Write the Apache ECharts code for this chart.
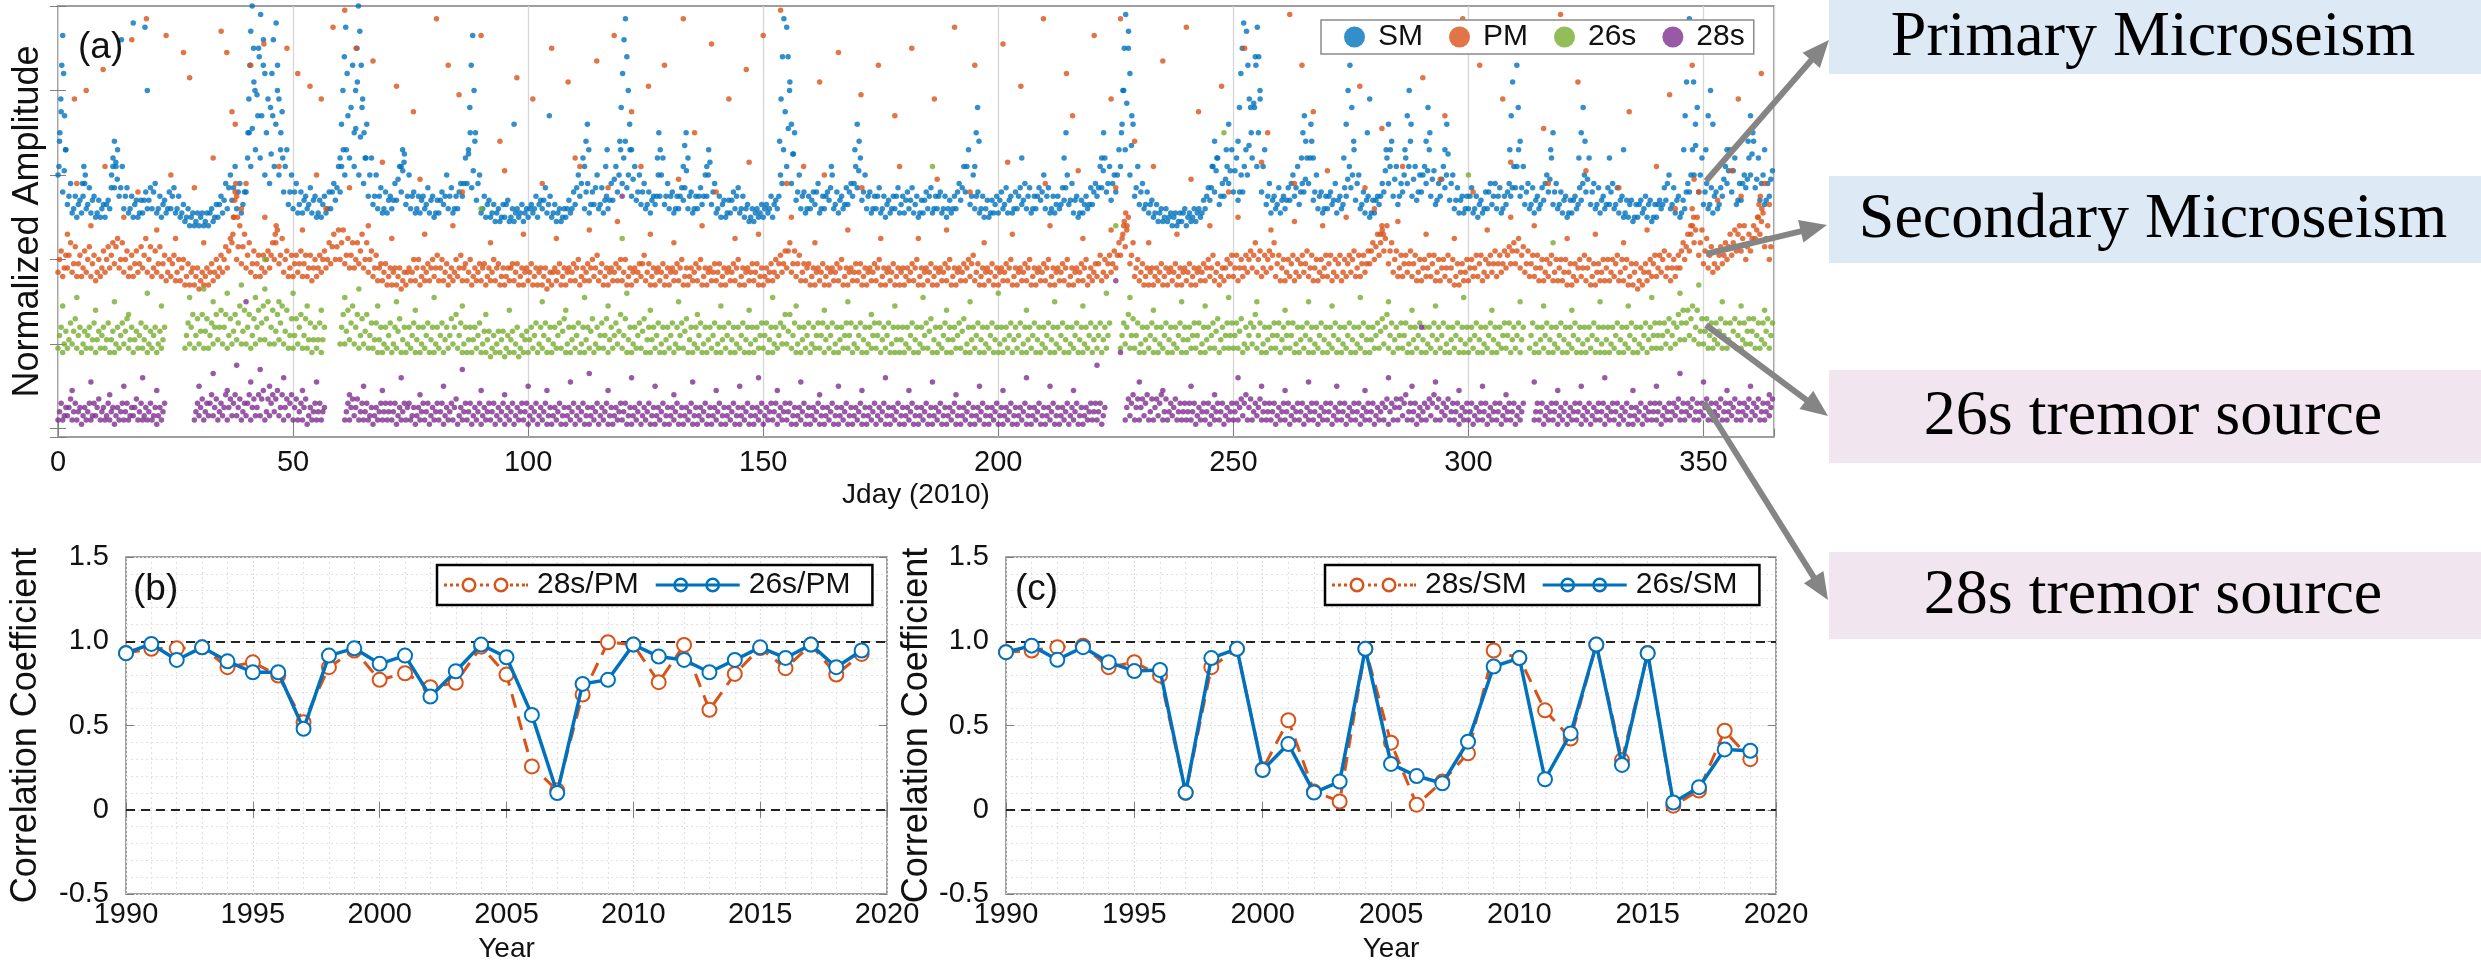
<!DOCTYPE html>
<html><head><meta charset="utf-8">
<script src="https://cdn.jsdelivr.net/npm/echarts@6/dist/echarts.min.js"></script>
<style>html,body{margin:0;padding:0;background:#fff}#c{width:2481px;height:964px}</style>
</head><body><div id="c"></div>
<script>
// ---------- Panel (a): readings per day (units: 0..100 = bottom..top tick) ----------
const jdayTicks = [0, 50, 100, 150, 200, 250, 300, 350];
const smLo = [
60,56,53,51,50,51,52,51,50,50, 50,52,57,55,52,51,50,50,51,52, 52,51,50,51,52,51,50,49,48,48,
48,48,48,49,50,51,52,54,52,51, 56,62,66,64,60,58,62,60,56,53, 52,51,51,52,51,50,50,51,52,54,
56,60,64,62,60,58,55,53,52,51, 51,52,54,56,53,52,51,51,52,51, 50,51,53,52,51,52,55,58,57,54,
51,50,50,49,49,50,49,49,50,49, 50,51,50,52,51,50,49,49,50,51, 53,55,52,51,53,52,51,52,54,56,
58,57,55,54,53,52,51,53,55,53, 52,51,52,54,52,51,52,53,55,53, 51,50,50,51,52,51,50,49,49,50,
50,51,50,52,58,62,58,54,52,51, 52,53,51,52,54,52,51,52,53,55, 57,54,52,51,52,51,50,51,52,51,
51,52,51,50,51,52,51,52,51,50, 51,52,54,56,53,52,51,50,50,51, 51,52,51,51,52,53,52,51,52,54,
52,51,51,52,54,53,51,50,51,52, 53,55,57,56,54,56,62,66,60,55, 53,52,51,50,49,49,49,48,48,49,
48,49,49,50,52,54,56,53,55,58, 56,54,56,60,64,62,56,53,51,52, 51,52,54,55,53,56,58,54,52,51,
52,53,51,52,55,57,54,52,51,50, 51,53,56,58,55,53,56,58,55,54, 56,58,55,53,55,57,54,52,51,51,
52,51,50,51,52,53,52,51,53,55, 57,55,53,52,51,52,54,56,53,52, 51,50,51,52,54,56,53,52,51,52,
53,52,51,50,50,49,50,51,50,49, 50,52,54,52,51,50,52,56,60,56, 53,52,51,52,55,58,56,53,54,57,
60,57,54,53,55];
const smMid = [
68,61,55,52,53,55,53,54,51,52, 53,57,62,57,55,52,53,51,54,54, 56,52,53,52,55,52,51,50,50,49,
50,49,51,50,53,54,57,57,56,53, 64,71,79,74,70,65,72,66,62,56, 56,53,54,53,54,51,53,52,56,57,
62,66,76,71,69,64,60,55,55,52, 54,54,59,61,55,55,52,54,53,54, 51,54,55,55,52,56,58,65,61,58,
52,53,51,51,50,53,50,51,51,51, 52,52,53,54,53,51,51,50,52,52, 57,58,56,53,57,53,54,54,59,60,
64,60,59,56,56,53,54,55,60,55, 55,52,55,57,55,52,55,55,60,56, 52,53,51,54,55,52,52,50,51,51,
52,52,53,55,66,71,65,56,55,52, 54,56,52,55,57,53,54,53,56,58, 61,56,55,52,55,52,53,52,55,53,
54,54,53,51,54,55,52,55,52,52, 52,56,57,62,55,55,52,52,51,53, 54,53,54,52,55,54,55,52,55,56,
55,52,53,53,57,54,54,51,53,53, 56,57,61,58,58,60,72,77,67,57, 56,53,53,51,51,50,50,50,49,51,
50,50,51,51,55,57,61,55,59,61, 61,56,62,67,77,70,62,55,54,53, 54,54,58,57,56,59,64,56,55,52,
55,54,54,53,59,60,58,53,54,51, 54,55,61,62,59,55,60,62,59,56, 60,61,59,54,59,60,58,54,54,52,
55,52,53,52,56,55,55,52,56,57, 62,57,56,53,54,53,58,59,56,53, 54,51,54,53,58,59,56,53,54,53,
56,53,54,51,53,50,53,52,53,50, 53,53,58,53,54,51,56,60,67,60, 56,53,55,53,59,61,61,54,58,59,
65,59,58,54,59];
const smHi = [
75,66,58,55,54,58,57,55,54,53, 54,62,66,62,57,55,54,54,56,57, 58,55,54,56,57,55,53,52,51,51,
51,51,52,53,55,58,60,62,58,56, 70,82,90,86,78,74,80,75,66,60, 58,56,55,57,55,54,55,56,58,62,
66,74,86,82,76,72,64,60,57,56, 55,58,62,65,60,56,55,55,57,55, 54,56,60,57,55,58,64,70,68,60,
55,54,53,52,53,54,52,52,53,52, 53,55,54,57,55,53,52,52,54,56, 60,64,58,56,60,57,55,58,62,66,
68,66,62,60,58,56,55,60,64,58, 56,55,57,61,56,55,57,60,63,58, 55,54,54,56,57,55,53,52,52,53,
53,55,54,60,75,82,70,60,56,55, 56,58,55,56,60,56,55,57,58,62, 64,60,56,55,57,55,54,55,57,55,
56,57,55,54,56,57,55,56,55,54, 55,58,62,66,60,56,55,54,54,55, 56,57,55,56,57,58,57,55,57,60,
57,55,55,57,60,58,55,54,55,57, 58,62,64,62,60,66,80,90,72,62, 58,56,54,53,52,52,51,51,51,52,
51,52,52,54,57,62,64,58,62,66, 64,60,66,76,88,80,66,58,55,57, 55,57,60,62,58,64,68,60,56,55,
56,58,55,57,62,66,60,56,55,54, 55,58,64,68,62,58,64,68,62,60, 62,66,61,58,62,65,60,57,55,55,
57,55,54,56,58,58,57,55,58,62, 66,62,58,57,55,57,60,64,58,56, 55,54,55,57,60,64,58,57,55,57,
58,57,55,54,54,53,54,55,54,53, 54,57,60,57,55,54,58,66,76,64, 58,57,56,57,62,66,64,58,60,64,
68,64,60,58,61];
const smPeaks = [
[0.2,62],[0.4,70],[0.6,78],[0.8,86],[1.0,93],[1.2,84],[1.4,74],[1.6,66],[5.2,58],[5.5,62],[5.8,60],
[11.4,60],[11.7,64],[12.0,68],[12.3,63],[12.6,59],[13.5,92],[16.0,96],[18.5,95],[19.0,80],
[40.4,70],[40.6,78],[40.8,86],[41.0,94],[41.3,100],[41.6,90],[41.9,80],[42.5,74],[42.8,88],[43.1,98],[43.4,102],[43.7,92],[44.0,84],
[45.2,76],[45.5,84],[45.8,92],[46.1,101],[46.4,96],[46.7,86],[47.0,78],[47.4,70],[47.8,64],
[60.0,64],[60.3,72],[60.6,80],[60.9,88],[61.2,95],[61.5,84],[63.0,70],[63.3,80],[63.6,90],[63.9,100],[64.2,94],[64.5,86],[64.8,78],[65.1,70],[65.5,64],
[73.0,62],[73.3,66],[73.6,63],[87.3,66],[87.6,76],[87.9,86],[88.2,93],[88.5,80],[88.8,70],[97.0,72],[104.5,74],
[112.0,62],[112.3,68],[112.6,72],[112.9,66],[116.5,62],[116.8,66],
[119.5,68],[119.8,76],[120.1,84],[120.4,92],[120.7,97],[121.0,88],[121.3,80],[121.6,72],[122.0,66],
[127.5,64],[127.8,70],[128.1,66],[133.0,62],[133.3,67],[133.6,70],[134.0,64],[138.0,62],[138.4,66],
[153.5,68],[153.8,78],[154.1,88],[154.4,97],[154.7,102],[155.0,95],[155.3,88],[155.6,80],[156.0,72],[156.4,65],
[164.5,62],[169.5,66],[170.0,72],[170.4,68],
[195.0,62],[195.3,70],[195.6,76],[195.9,68],[205.0,64],[214.0,64],[214.4,70],[222.0,64],[222.4,70],
[226.2,70],[226.5,80],[226.8,90],[227.1,98],[227.4,102],[227.7,94],[228.0,84],[228.4,74],
[245.5,62],[246,68],[246.5,64],[248.5,66],[249,72],
[251.0,68],[251.3,76],[251.6,84],[251.9,90],[252.2,96],[252.5,102],[252.8,94],[253.1,86],[253.4,78],[253.8,70],
[254.5,76],[254.8,86],[255.1,95],[255.4,88],[255.7,78],
[264.5,64],[264.8,70],[265.1,74],[265.4,68],[266.5,72],[267,64],
[273.5,64],[274,72],[274.4,80],[274.8,86],[275.2,76],[275.6,68],[278.5,70],[279,78],
[282.5,66],[283,72],[283.4,66],[286.5,66],[287,74],[287.4,80],[287.8,72],[291.0,68],[291.4,76],[291.8,70],[295,66],[295.4,72],
[308.8,66],[309.1,74],[309.4,82],[309.7,90],[310.0,95],[310.3,86],[310.6,76],[311,68],[317.5,66],[318,70],
[323.5,64],[324,70],[324.4,76],[324.8,68],[330,64],[333,66],
[345.8,66],[346.1,74],[346.4,82],[346.7,90],[347,97],[347.3,102],[347.6,92],[347.9,82],[348.3,72],
[350.5,66],[351,74],[351.5,80],[352,72],[355,66],[359.5,68],[360,74],[360.5,70],[363,66]];

const pmLo = [
37,36,38,37,36,36,37,36,35,36, 37,38,39,38,37,36,36,37,38,37, 36,37,36,35,36,35,35,34,34,34,
33,34,34,35,36,37,38,44,40,39, 38,37,36,36,37,38,40,39,37,36, 36,37,36,36,35,36,37,38,39,40,
40,39,38,38,39,38,37,36,35,35, 34,34,34,33,34,35,35,34,35,35, 36,35,35,34,35,36,35,35,34,35,
35,34,35,35,34,34,35,35,34,34, 35,34,34,34,33,34,35,34,34,35, 35,34,35,35,36,35,34,34,35,35,
35,34,34,35,36,35,34,34,35,34, 34,35,35,34,34,35,35,34,34,35, 35,34,34,35,35,34,34,35,35,34,
34,35,35,36,37,38,37,36,35,35, 34,34,35,34,34,35,35,34,34,35, 35,34,34,35,35,34,34,35,34,34,
34,35,35,34,34,35,34,34,35,35, 34,34,35,35,36,35,34,34,35,34, 34,35,35,34,34,35,35,34,34,35,
35,34,34,35,35,34,34,35,35,34, 35,36,35,36,37,38,41,43,39,36, 35,34,34,34,35,34,34,35,34,34,
35,34,34,35,35,36,35,34,35,36, 36,35,36,37,38,37,36,37,38,36, 35,35,36,35,36,37,36,35,35,36,
36,35,36,35,36,37,36,36,37,39, 40,41,42,39,37,36,36,37,36,35, 35,36,36,35,35,36,35,34,34,35,
35,36,36,35,36,37,36,37,38,39, 39,38,37,36,36,35,35,36,35,35, 35,34,34,35,36,35,34,34,35,35,
35,36,35,35,34,34,33,34,35,36, 36,37,36,35,36,38,40,42,44,41, 39,38,37,38,39,40,41,42,42,40,
42,45,46,43,40];
const pmMid = [
40,38,41,39,39,38,40,39,37,38, 40,41,43,40,40,38,39,39,41,40, 38,39,39,37,39,37,38,36,37,36,
35,36,37,37,38,40,42,50,43,43, 41,39,39,38,40,41,44,41,40,38, 39,39,39,38,38,38,40,40,43,43,
44,41,41,40,42,40,40,38,38,37, 36,37,36,35,37,37,38,36,37,38, 38,38,37,36,37,38,38,37,36,37,
38,36,37,38,36,36,38,37,36,37, 37,36,37,36,35,37,37,36,37,37, 38,36,37,38,38,37,36,37,37,38,
37,36,37,37,39,37,36,37,37,36, 37,37,38,36,36,37,38,36,37,37, 37,36,37,37,38,36,37,37,37,36,
36,37,37,39,39,42,39,39,37,38, 36,37,37,36,37,37,38,36,37,37, 37,36,37,37,38,36,37,37,36,37,
36,37,38,36,37,37,36,37,37,38, 36,37,37,38,39,37,36,37,37,36, 37,37,38,36,37,37,38,36,37,37,
38,36,37,37,38,36,37,37,38,36, 37,39,37,39,39,41,45,47,41,38, 37,36,37,36,37,36,37,37,36,37,
37,36,37,37,38,38,37,36,38,39, 38,38,38,40,41,40,38,40,41,39, 38,37,39,37,39,39,38,38,37,38,
39,37,39,37,39,40,38,39,39,42, 43,44,45,42,40,38,39,39,39,37, 38,38,39,37,38,38,38,36,37,37,
38,38,39,37,39,39,39,39,41,42, 42,41,39,39,38,38,37,39,37,38, 37,37,36,38,38,38,36,37,37,38,
37,39,37,38,36,37,35,37,37,39, 38,40,38,38,38,42,43,46,47,44, 42,41,39,41,41,43,44,46,45,43,
45,47,49,45,43];
const pmHi = [
42,41,44,43,41,42,43,41,40,42, 43,44,45,44,42,41,42,43,45,43, 42,43,41,40,41,40,40,39,38,38,
37,38,39,40,41,43,45,56,48,46, 44,42,41,41,42,44,47,45,42,41, 41,42,41,41,40,41,42,44,46,47,
47,45,44,44,46,44,42,41,39,39, 38,38,38,37,38,40,40,38,39,40, 41,40,39,38,40,41,39,40,38,39,
39,38,40,39,38,38,39,39,38,38, 39,38,38,38,37,38,39,38,38,39, 40,38,39,40,41,39,38,38,39,40,
40,38,38,39,41,39,38,38,39,38, 38,39,40,38,38,39,40,38,38,39, 39,38,38,39,40,38,38,39,39,38,
38,39,40,41,42,44,42,41,39,39, 38,38,39,38,38,39,40,38,38,39, 39,38,38,39,40,38,38,39,38,38,
38,39,40,38,38,39,38,38,39,40, 38,38,39,40,41,39,38,38,39,38, 38,39,40,38,38,39,40,38,38,39,
40,38,38,39,40,38,38,39,40,38, 39,41,40,41,42,44,48,50,44,40, 39,38,38,38,39,38,38,39,38,38,
39,38,38,39,40,41,39,38,40,41, 41,40,41,42,44,42,41,42,44,41, 40,40,41,40,41,42,41,40,40,41,
41,40,41,40,41,42,41,41,42,44, 46,47,48,44,42,41,41,42,41,40, 40,41,41,40,40,41,40,39,39,40,
40,41,41,40,41,42,41,42,43,44, 45,43,42,41,41,40,40,41,40,40, 40,39,39,40,41,40,39,39,40,40,
40,41,40,40,39,39,38,39,40,41, 41,42,41,40,41,44,46,48,50,47, 45,43,42,43,44,46,47,48,48,46,
48,50,51,48,45];
const pmScatter = [
[3.5,78],[6,80],[9.6,85],[15.7,92],[18.8,97],[23,93],[26.7,89],[28,83],[34.7,94],[35.9,89],[37,75],[37.7,72],[41,86],[43.8,91],[48.7,90],[51,84],[53.6,81],[56,78],[58.5,95],[61,99],[63.4,90],[67,87],[72,81],[75.6,75],[80.5,97],[83,86],[85.3,79],[90,93],[94,68],[97.6,83],[101,78],[105,90],[108.5,82],[111,62],[114.6,87],[118.3,93],[122,75],[125.6,81],[129,86],[133,97],[135.4,70],[139,91],[142.7,78],[146.4,85],[150,93],[153.7,99],[158.6,62],[162,82],[166,89],[170.8,79],[174.5,86],[178,74],
[2,46],[7,48],[14,50],[21,47],[25,45],[31,44],[39,52],[44,50],[52,47],[57,52],[66,48],[71,45],[78,46],[84,48],[92,44],[99,46],[106,45],[113,47],[119,49],[126,46],[131,44],[137,48],[144,45],[149,46],[156,50],[161,44],[168,47],[175,45],
[181.6,90],[186.4,78],[190.7,95],[195,86],[201,91],[204.8,81],[209.6,97],[214.5,84],[215.8,74],[220.4,93],[224,78],[226,97],[229,68],[235,87],[240,95],[242.6,75],[247.5,81],[252.4,90],[257.3,70],[262,98],[264.6,86],[267,75],[272,92],[276.9,81],[281.6,71],[285.3,93],[290.3,83],[295,74],[298.8,97],[302.4,86],[307.3,78],[312.3,92],[316,71],[319.6,98],[323.3,82],[329.4,90],[334.2,75],[339,94],[342.8,79],[347.6,86],[352.5,93],[357.4,78],[362.3,84],
[183,45],[189,47],[197,44],[203,46],[211,48],[218,45],[224,47],[232,44],[238,46],[245,48],[251,50],[258,47],[263,49],[269,48],[274,50],[280,52],[285,49],[291,46],[297,45],[304,47],[309,50],[314,48],[321,45],[327,46],[333,44],[338,47],[344,52],[349,56],[353,54],[358,55],[364,53],
[4,58],[10,62],[17,56],[24,60],[29,57],[33,64],[40,58],[47,62],[55,60],[62,57],[69,63],[77,59],[86,56],[95,61],[103,58],[110,64],[117,57],[124,62],[132,59],[140,56],[147,63],[155,58],[163,60],[171,57],[179,62],[187,59],[194,56],[202,63],[210,58],[217,61],[225,57],[233,62],[241,59],[249,56],[256,63],[263,58],[270,61],[278,57],[286,62],[294,59],[301,56],[309,63],[317,58],[325,61],[332,57],[340,62],[348,59],[356,61],[363,58],
[37.2,46],[37.4,50],[37.6,54],[37.8,58],[38.0,55],[38.2,50],[46.2,46],[46.4,48],[226.5,46],[226.8,49],[227.1,51],[227.4,48],[281.3,46],[281.6,48],[281.9,46],[347.3,48],[347.6,52],[347.9,50],[361.5,50],[361.8,53],[362.1,55],[362.4,52]];

const g26Lo = [
19,18,19,20,19,18,19,19,18,19, 19,18,18,19,20,19,18,19,19,18, 19,18,19,null,null,null,null,19,20,19,
20,19,19,20,21,20,19,20,21,20, 20,19,20,21,21,20,20,21,20,19, 19,20,19,19,18,19,18,null,null,null,
20,20,21,20,19,20,19,19,18,18, 19,18,19,18,18,19,18,18,19,18, 18,19,18,19,20,19,18,18,18,19,
18,18,17,18,18,17,18,18,17,18, 18,19,18,19,18,18,19,19,18,18, 19,18,18,19,18,19,19,18,19,20,
19,18,18,19,19,18,18,19,18,18, 19,18,19,19,18,18,19,18,18,19, 18,18,19,18,18,19,18,18,18,19,
19,18,18,19,20,20,19,18,18,19, 18,19,19,18,19,18,18,19,19,18, 19,18,18,19,19,18,19,18,18,18,
18,19,18,18,19,19,18,18,19,18, 18,19,19,18,18,19,18,18,19,18, 18,18,19,18,19,18,18,19,18,18,
19,18,18,19,18,18,19,18,18,19, 18,19,18,19,null,null,19,20,19,19, 18,18,19,18,18,19,18,18,19,18,
18,19,19,18,18,19,19,18,19,19, 19,19,18,19,20,19,18,18,19,19, 18,19,19,18,18,19,18,18,19,18,
18,19,18,18,19,18,18,19,18,18, 19,19,20,19,18,19,19,18,18,19, 18,18,19,18,19,18,18,19,18,18,
18,19,18,18,19,18,18,19,19,18, 19,18,null,19,18,18,19,18,18,19, 18,18,19,18,18,18,19,18,18,18,
18,19,18,18,19,18,18,19,18,19, 19,19,20,19,20,21,21,22,21,20, 20,19,19,20,19,19,20,19,19,20,
20,19,19,20,19];
const g26Mid = [
22,20,21,23,22,20,22,21,21,22, 21,21,20,22,23,21,21,22,21,20, 22,20,21,null,null,null,null,22,24,22,
23,23,22,24,24,24,22,23,25,23, 24,22,24,25,26,24,23,25,23,22, 22,24,22,21,21,21,21,null,null,null,
24,23,25,24,22,23,22,21,21,20, 22,20,23,21,20,22,21,20,22,21, 20,22,21,22,24,22,20,21,21,22,
20,21,19,20,21,19,21,20,19,21, 21,22,20,22,21,20,22,23,20,21, 22,20,21,23,20,22,22,21,22,23,
22,21,20,22,23,21,21,22,20,21, 22,20,22,23,21,20,22,20,21,22, 20,21,22,21,20,22,21,20,21,22,
22,21,20,22,24,23,22,20,21,22, 20,22,22,21,22,20,21,22,22,20, 22,21,20,22,22,21,22,20,21,21,
20,22,21,20,22,23,21,20,22,21, 21,22,23,20,21,22,21,20,22,21, 20,21,22,21,22,20,21,22,21,20,
22,21,20,22,21,20,22,21,20,22, 21,22,21,22,null,null,22,24,22,22, 20,21,22,21,20,22,21,20,22,21,
21,22,22,20,21,22,23,21,22,22, 22,23,20,22,24,22,20,21,22,22, 21,22,22,20,21,22,21,20,22,21,
20,22,21,20,22,21,20,22,21,21, 22,23,24,22,21,22,22,20,21,22, 21,20,22,21,22,20,21,22,21,20,
21,22,21,20,22,21,20,22,22,21, 22,21,null,22,20,21,22,21,20,22, 21,20,22,21,20,21,22,21,20,21,
20,22,21,20,22,21,20,22,21,22, 22,22,23,22,24,25,25,26,24,23, 23,22,21,23,22,21,23,22,21,23,
23,22,21,23,22];
const g26Hi = [
24,23,25,26,24,23,24,25,23,24, 25,23,24,25,26,24,23,25,24,23, 24,23,24,null,null,null,null,25,27,26,
27,26,25,27,28,27,26,27,29,28, 27,26,28,29,30,28,27,29,28,26, 26,27,26,25,24,25,24,null,null,null,
27,28,29,27,26,27,25,25,24,24, 25,24,26,24,24,25,24,24,25,24, 24,25,24,26,27,25,24,24,24,25,
23,23,22,23,23,22,23,24,22,23, 24,25,24,25,24,24,25,26,24,24, 25,24,24,26,24,25,26,24,25,27,
26,24,24,25,26,24,24,25,24,24, 25,24,25,26,24,24,25,24,24,25, 24,24,25,24,24,25,24,24,24,25,
25,24,24,25,27,27,25,24,24,25, 24,25,25,24,25,24,24,25,25,24, 25,24,24,25,25,24,25,24,24,24,
24,25,24,24,25,26,24,24,25,24, 24,25,26,24,24,25,24,24,25,24, 24,24,25,24,25,24,24,25,24,24,
25,24,24,25,24,24,25,24,24,25, 24,25,24,25,null,null,25,27,26,25, 24,24,25,24,24,25,24,24,25,24,
24,25,25,24,24,25,26,24,25,25, 25,26,24,25,27,25,24,24,25,25, 24,25,25,24,24,25,24,24,25,24,
24,25,24,24,25,24,24,25,24,24, 25,26,27,25,24,25,25,24,24,25, 24,24,25,24,25,24,24,25,24,24,
24,25,24,24,25,24,24,25,25,24, 25,24,null,25,24,24,25,24,24,25, 24,24,25,24,24,24,25,24,24,24,
24,25,24,24,25,24,24,25,24,25, 25,25,26,25,27,28,28,29,28,26, 26,25,25,26,25,25,26,25,25,26,
26,25,25,26,25];
const g26Scatter = [
[1,29],[4,31],[8,28],[12,30],[15,27],[19,32],[22,29],[28,31],[31,33],[33,30],[36,32],[39,34],[42,31],[44,33],[47,30],[50,32],[53,29],[56,28],[61,31],[64,33],[68,29],[72,30],[76,28],[80,31],[86,29],[91,27],[96,28],[103,30],[108,28],[112,31],[117,29],[121,32],[126,28],[132,30],[136,27],[141,29],[147,28],[152,31],[157,29],[163,28],[168,30],[173,27],[178,29],[184,31],[189,28],[194,30],[200,32],[206,28],[212,30],[218,29],[223,32],[228,31],[233,28],[239,30],[244,29],[249,31],[255,30],[261,28],[266,30],[271,29],[277,31],[283,30],[288,28],[293,29],[299,31],[305,28],[311,30],[316,29],[322,28],[328,30],[334,29],[339,31],[345,32],[349,34],[354,30],[358,29],[363,28],
[44,40],[90,52],[120,45],[186,62],[225,48],[248,70],[300,60],[318,44]];

const p28Lo = [
2,2,3,2,2,1,2,2,3,2, 2,2,1,2,2,2,3,2,2,2, 2,1,2,null,null,null,null,null,null,2,
3,2,3,3,2,3,2,3,3,2, 3,2,3,3,2,3,4,3,2,3, 2,2,2,1,2,2,2,null,null,null,
null,2,2,3,2,2,2,1,2,2, 2,2,1,2,2,2,1,2,2,1, 2,2,1,2,2,1,2,2,1,2,
1,2,2,1,2,1,2,1,2,2, 1,2,1,2,1,1,2,1,1,2, 1,2,1,1,2,1,2,1,1,2,
2,1,1,2,1,2,1,1,2,1, 1,2,1,1,2,1,1,2,1,1, 2,1,1,2,1,1,2,1,1,2,
1,2,2,1,2,2,1,1,2,1, 1,2,1,1,2,1,1,2,1,1, 2,1,1,2,1,2,1,1,2,1,
1,2,1,1,2,1,1,2,1,1, 2,1,1,2,1,1,2,1,1,2, 1,1,2,1,1,2,1,1,2,1,
1,2,1,1,2,1,2,1,1,2, 2,2,1,null,null,null,null,2,3,2, 2,3,2,2,3,2,2,3,2,2,
2,2,1,2,2,1,2,2,1,2, 2,2,3,2,2,3,2,2,2,1, 2,2,1,2,2,1,2,2,1,2,
2,1,2,2,1,2,2,1,2,2, 1,2,2,1,2,2,3,2,2,1, 2,2,3,2,2,3,2,2,1,2,
2,1,2,2,1,2,2,1,2,2, 1,2,null,null,2,2,1,2,2,1, 2,1,2,2,1,2,1,2,2,1,
2,2,1,2,1,1,2,1,2,2, 2,1,2,2,3,2,2,3,2,2, 3,2,2,3,2,2,3,2,2,3,
2,3,2,2,3];
const p28Mid = [
4,3,5,4,4,3,4,3,5,4, 3,4,3,4,4,3,5,4,3,4, 3,3,4,null,null,null,null,null,null,4,
5,4,6,5,4,5,5,6,5,4, 6,5,5,7,4,6,7,5,5,6, 5,4,5,3,4,4,4,null,null,null,
null,4,5,5,4,4,3,3,4,4, 4,4,3,4,5,3,3,4,4,3, 4,4,3,4,5,3,4,4,3,4,
3,4,4,3,4,3,4,3,4,4, 3,4,3,4,3,3,4,3,3,4, 3,4,3,3,4,3,4,3,3,4,
4,3,3,4,3,4,3,3,4,3, 3,4,3,3,4,3,3,4,3,3, 4,3,3,4,3,3,4,3,3,4,
3,4,4,3,4,4,3,3,4,3, 3,4,3,3,4,3,3,4,3,3, 4,3,3,4,3,4,3,3,4,3,
3,4,3,3,4,3,3,4,3,3, 4,3,3,4,3,3,4,3,3,4, 3,3,4,3,3,4,3,3,4,3,
3,4,3,3,4,3,4,3,3,4, 4,4,3,null,null,null,null,5,6,5, 5,6,4,5,6,4,4,5,4,4,
4,4,3,4,4,3,4,4,3,4, 4,5,6,5,4,5,4,4,4,3, 4,4,3,4,4,3,4,4,3,4,
4,3,4,4,3,4,4,3,4,4, 3,4,5,4,5,5,6,4,4,3, 4,5,6,5,4,5,4,4,3,4,
4,3,4,4,3,4,4,3,4,4, 3,4,null,null,4,4,3,4,4,3, 4,3,4,4,3,4,3,4,4,3,
4,4,3,4,3,3,4,3,4,4, 4,3,4,4,5,4,4,5,4,4, 5,4,4,5,4,4,5,4,4,5,
4,5,4,4,5];
const p28Hi = [
6,5,7,6,5,5,6,6,7,5, 6,5,5,6,6,5,7,6,5,6, 5,5,6,null,null,null,null,null,null,6,
7,6,8,7,6,8,7,8,7,6, 8,7,8,9,7,8,9,8,7,8, 7,6,7,5,6,6,5,null,null,null,
null,6,7,7,6,6,5,5,6,6, 6,6,5,6,6,5,5,6,6,5, 6,6,5,6,7,5,6,6,5,6,
5,6,6,5,6,5,6,5,6,6, 5,6,5,6,5,5,6,5,5,6, 5,6,5,5,6,5,6,5,5,6,
6,5,5,6,5,6,5,5,6,5, 5,6,5,5,6,5,5,6,5,5, 6,5,5,6,5,5,6,5,5,6,
5,6,6,5,6,6,5,5,6,5, 5,6,5,5,6,5,5,6,5,5, 6,5,5,6,5,6,5,5,6,5,
5,6,5,5,6,5,5,6,5,5, 6,5,5,6,5,5,6,5,5,6, 5,5,6,5,5,6,5,5,6,5,
5,6,5,5,6,5,6,5,5,6, 6,6,5,null,null,null,null,7,8,7, 7,8,7,7,8,7,6,7,6,6,
6,6,5,6,6,5,6,6,5,6, 6,7,8,7,6,7,6,6,6,5, 6,6,5,6,6,5,6,6,5,6,
6,5,6,6,5,6,6,5,6,6, 5,6,7,6,7,7,8,6,6,5, 6,7,8,7,6,7,6,6,5,6,
6,5,6,6,5,6,6,5,6,6, 5,6,null,null,6,6,5,6,6,5, 6,5,6,6,5,6,5,6,6,5,
6,6,5,6,5,5,6,5,6,6, 6,5,6,6,7,6,6,7,6,6, 7,6,6,7,6,6,7,6,6,7,
6,7,6,6,7];
const p28Scatter = [
[3,9],[7,11],[11,8],[14,10],[18,12],[21,9],[30,10],[33,13],[36,9],[38,15],[41,11],[43,14],[45,10],[48,12],[52,9],[55,11],[62,8],[65,10],[69,9],[73,12],[77,8],[82,10],[86,14],[90,9],[95,8],[100,10],[104,9],[109,11],[113,13],[117,9],[122,12],[127,10],[131,8],[135,11],[140,9],[145,10],[149,12],[153,9],[158,11],[162,8],[166,10],[171,9],[176,12],[181,9],[186,11],[191,8],[196,10],[201,9],[206,12],[211,10],[216,9],[221,15],[226,18],[230,11],[235,9],[241,10],[246,8],[251,12],[256,10],[261,9],[266,11],[272,10],[278,9],[283,12],[288,10],[293,11],[298,9],[303,10],[308,8],[314,11],[319,9],[324,10],[329,12],[335,9],[340,10],[345,13],[350,11],[355,9],[360,10],[364,8],
[40,30],[120,55],[225,35],[290,24]];

// ---------- Panels (b), (c): yearly correlation coefficients ----------
const years = [1990,1991,1992,1993,1994,1995,1996,1997,1998,1999,2000,2001,2002,2003,2004,2005,2006,2007,2008,2009,2010,2011,2012,2013,2014,2015,2016,2017,2018,2019];
const pm28 = [0.93,0.955,0.958,0.964,0.846,0.875,0.796,0.52,0.846,0.945,0.771,0.81,0.727,0.753,0.968,0.802,0.257,0.115,0.684,0.994,0.98,0.757,0.978,0.593,0.806,0.96,0.84,0.98,0.802,0.925];
const pm26 = [0.929,0.984,0.889,0.964,0.881,0.816,0.816,0.48,0.915,0.958,0.866,0.915,0.672,0.822,0.98,0.905,0.563,0.099,0.747,0.771,0.98,0.909,0.889,0.816,0.889,0.964,0.901,0.98,0.846,0.945];
const sm28 = [0.935,0.945,0.965,0.974,0.846,0.876,0.797,0.1,0.846,0.955,0.24,0.531,0.108,0.049,0.955,0.398,0.03,0.167,0.335,0.945,0.9,0.59,0.423,0.98,0.295,0.93,0.024,0.114,0.469,0.3];
const sm26 = [0.935,0.974,0.89,0.965,0.876,0.823,0.83,0.102,0.9,0.955,0.236,0.39,0.102,0.167,0.955,0.272,0.2,0.157,0.404,0.85,0.9,0.181,0.453,0.98,0.266,0.929,0.043,0.134,0.358,0.35];
const refLines = [1.0, 0];

const annotations = ['Primary Microseism', 'Secondary Microseism', '26s tremor source', '28s tremor source'];

// ---------- build ----------
const C_BLUE = '#0072BD', C_ORANGE = '#D95319', C_GREEN = '#77AC30', C_PURPLE = '#7E2F8E';
function daily(arr, off) { const o = []; arr.forEach((v, i) => { if (v !== null) o.push([i + off, v]); }); return o; }
const FONT = 'Liberation Sans';

function ring(cx, cy, r1, r2) {
  return `M${cx-r1} ${cy}A${r1} ${r1} 0 1 1 ${cx+r1} ${cy}A${r1} ${r1} 0 1 1 ${cx-r1} ${cy}Z` +
         `M${cx-r2} ${cy}A${r2} ${r2} 0 1 0 ${cx+r2} ${cy}A${r2} ${r2} 0 1 0 ${cx-r2} ${cy}Z`;
}
function rectP(x0, x1, cy, h) { return `M${x0} ${cy-h/2}L${x1} ${cy-h/2}L${x1} ${cy+h/2}L${x0} ${cy+h/2}Z`; }
const IW = 84, IH = 15, CY = 7.5, R1 = 7.5, R2 = 5, RC = [25, 57];
function solidIcon() { return 'path://' + rectP(0, IW, CY, 3) + ring(RC[0], CY, R1, R2) + ring(RC[1], CY, R1, R2); }
function dottedIcon() {
  let p = '';
  for (let x = 0; x < IW; x += 6) {
    const x1 = Math.min(x + 3, IW);
    const mid = (x + x1) / 2;
    if (Math.abs(mid - RC[0]) < R1 + 1 || Math.abs(mid - RC[1]) < R1 + 1) continue;
    p += rectP(x, x1, CY, 3);
  }
  p += rectP(IW - 2, IW, CY, 3);
  return 'path://' + p + ring(RC[0], CY, R1, R2) + ring(RC[1], CY, R1, R2);
}

const AXC = '#7f7f7f';
function corrX(gi, show) {
  return { type: 'value', gridIndex: gi, min: 1990, max: 2020, interval: 5, position: show ? 'bottom' : 'top',
    axisLine: { show: false }, axisTick: { show: true, inside: true, length: 8, lineStyle: { color: AXC } },
    axisLabel: { show: show, fontSize: 29, fontFamily: FONT, color: '#111', margin: 6, formatter: v => String(v) },
    splitLine: { show: show, lineStyle: { color: '#dedede', width: 1.2, type: [2, 2] } },
    minorTick: { show: false, splitNumber: 5 },
    minorSplitLine: { show: show, lineStyle: { color: '#e2e2e2', width: 1.2, type: [2, 3] } },
    name: show ? 'Year' : '', nameLocation: 'middle', nameGap: 41,
    nameTextStyle: { fontSize: 28, fontFamily: FONT, color: '#111' } };
}
function corrY(gi, show, gap) {
  return { type: 'value', gridIndex: gi, min: -0.5, max: 1.5, interval: 0.5, position: show ? 'left' : 'right',
    axisLine: { show: false }, axisTick: { show: true, inside: true, length: 8, lineStyle: { color: AXC } },
    axisLabel: { show: show, fontSize: 29, fontFamily: FONT, color: '#111', margin: 17,
      formatter: v => (Math.abs(v) < 1e-9 ? '0' : v.toFixed(1)) },
    splitLine: { show: show, lineStyle: { color: '#dedede', width: 1.2, type: [2, 2] } },
    minorTick: { show: false, splitNumber: 5 },
    minorSplitLine: { show: show, lineStyle: { color: '#e2e2e2', width: 1.2, type: [2, 3] } },
    name: show ? 'Correlation Coefficient' : '', nameLocation: 'middle', nameGap: gap,
    nameTextStyle: { fontSize: 36, fontFamily: FONT, color: '#111' } };
}
function corrSeries(name, xi, vals, color, dashed, withRef) {
  const s = { name, type: 'line', xAxisIndex: xi, yAxisIndex: xi,
    data: years.map((y, i) => [y, vals[i]]), symbol: 'emptyCircle', symbolSize: 14,
    lineStyle: { color, width: dashed ? 3 : 3.5, type: dashed ? [14, 9] : 'solid' },
    itemStyle: { color, borderColor: color, borderWidth: 2.6 }, z: dashed ? 3 : 4 };
  if (withRef) s.markLine = { silent: true, symbol: ['none', 'none'], label: { show: false },
    lineStyle: { color: '#222', width: 2, type: [9, 6] }, data: refLines.map(v => ({ yAxis: v })), z: 2 };
  return s;
}

const chart = echarts.init(document.getElementById('c'), null, { renderer: 'canvas' });
const gridBase = { show: true, borderColor: AXC, borderWidth: 1.5, backgroundColor: '#fff', containLabel: false, outerBoundsMode: 'none' };

const boxes = [
  { y0: 0, y1: 74, fill: '#DDEAF6' },
  { y0: 176, y1: 263, fill: '#DDEAF6' },
  { y0: 370, y1: 463, fill: '#F1E5EF' },
  { y0: 552, y1: 639, fill: '#F1E5EF' }];
const arrows = [[1706, 181, 1829, 40], [1706, 254, 1827, 225], [1706, 325, 1828, 416], [1704, 402, 1828, 600]];
const graphics = [];
boxes.forEach((b, i) => {
  graphics.push({ type: 'rect', shape: { x: 1829, y: b.y0, width: 2481 - 1829, height: b.y1 - b.y0 }, style: { fill: b.fill }, z: 90 });
  graphics.push({ type: 'text', x: 2153, y: (b.y0 + b.y1) / 2 + 1, style: { text: annotations[i], fontSize: 64, fontFamily: 'Liberation Serif', fill: '#000', align: 'center', verticalAlign: 'middle' }, z: 91 });
});
arrows.forEach(a => {
  const [x1, y1, x2, y2] = a; const L = 27, W = 11.5;
  const dx = x2 - x1, dy = y2 - y1, len = Math.hypot(dx, dy), ux = dx / len, uy = dy / len;
  const bx = x2 - ux * L, by = y2 - uy * L;
  graphics.push({ type: 'line', shape: { x1, y1, x2: bx + ux * 2, y2: by + uy * 2 }, style: { stroke: '#858585', lineWidth: 6 }, z: 95 });
  graphics.push({ type: 'polygon', shape: { points: [[x2, y2], [bx - uy * W, by + ux * W], [bx + uy * W, by - ux * W]] }, style: { fill: '#858585' }, z: 95 });
});
[['(a)', 78, 48], ['(b)', 133, 590], ['(c)', 1015, 590]].forEach(t => {
  graphics.push({ type: 'text', x: t[1], y: t[2], style: { text: t[0], fontSize: 37, fontFamily: FONT, fill: '#111', align: 'left', verticalAlign: 'middle' }, z: 96 });
});

const DOT = 5.5;
const option = {
  animation: false,
  backgroundColor: '#fff',
  grid: [
    Object.assign({ left: 58, top: 6, width: 1716, height: 431 }, gridBase),
    Object.assign({ left: 126, top: 557, width: 761, height: 337 }, gridBase),
    Object.assign({ left: 1006, top: 557, width: 770, height: 337 }, gridBase)
  ],
  xAxis: [
    { type: 'value', gridIndex: 0, min: 0, max: 365, interval: 50, position: 'bottom',
      axisLine: { show: false }, axisTick: { show: true, inside: true, length: 8, lineStyle: { color: AXC } },
      axisLabel: { fontSize: 29, fontFamily: FONT, color: '#111', margin: 11, showMaxLabel: false,
        formatter: v => (jdayTicks.indexOf(v) >= 0 ? String(v) : '') },
      splitLine: { show: true, lineStyle: { color: '#d6d6d6', width: 1.3 } },
      name: 'Jday (2010)', nameLocation: 'middle', nameGap: 44,
      nameTextStyle: { fontSize: 28, fontFamily: FONT, color: '#111' } },
    { type: 'value', gridIndex: 0, min: 0, max: 365, interval: 50, position: 'top',
      axisLine: { show: false }, axisTick: { show: true, inside: true, length: 8, lineStyle: { color: AXC } },
      axisLabel: { show: false }, splitLine: { show: false } },
    corrX(1, true), corrX(1, false), corrX(2, true), corrX(2, false)
  ],
  yAxis: [
    { type: 'value', gridIndex: 0, min: -2, max: 100, splitNumber: 5, position: 'left',
      axisLine: { show: false }, axisTick: { show: true, inside: true, length: 8, lineStyle: { color: AXC } },
      axisLabel: { show: false }, splitLine: { show: false },
      name: 'Normalized Amplitude', nameLocation: 'middle', nameGap: 12,
      nameTextStyle: { fontSize: 36, fontFamily: FONT, color: '#111' } },
    { type: 'value', gridIndex: 0, min: -2, max: 100, splitNumber: 5, position: 'right',
      axisLine: { show: false }, axisTick: { show: true, inside: true, length: 8, lineStyle: { color: AXC } },
      axisLabel: { show: false }, splitLine: { show: false } },
    corrY(1, true, 82), corrY(1, false, 0), corrY(2, true, 67), corrY(2, false, 0)
  ],
  legend: [
    { left: 1321, top: 20, orient: 'horizontal', data: ['SM', 'PM', '26s', '28s'], icon: 'circle',
      itemWidth: 21, itemHeight: 21, itemGap: 26, selectedMode: false,
      textStyle: { fontSize: 30, fontFamily: FONT, color: '#111', padding: [0, 0, 0, 8] },
      padding: [2, 9, 2, 23], borderColor: '#8a8a8a', borderWidth: 1.5, backgroundColor: '#fff', z: 20 },
    { left: 437, top: 565, orient: 'horizontal', selectedMode: false, itemWidth: IW, itemHeight: IH, itemGap: 17,
      data: [{ name: '28s/PM', icon: dottedIcon(), itemStyle: { color: C_ORANGE, borderWidth: 0 } },
             { name: '26s/PM', icon: solidIcon(), itemStyle: { color: C_BLUE, borderWidth: 0 } }],
      textStyle: { fontSize: 30, fontFamily: FONT, color: '#111', padding: [0, 0, 0, 4] },
      padding: [5, 22, 5, 7], borderColor: '#000', borderWidth: 2.5, backgroundColor: '#fff', z: 20 },
    { left: 1325, top: 565, orient: 'horizontal', selectedMode: false, itemWidth: IW, itemHeight: IH, itemGap: 16,
      data: [{ name: '28s/SM', icon: dottedIcon(), itemStyle: { color: C_ORANGE, borderWidth: 0 } },
             { name: '26s/SM', icon: solidIcon(), itemStyle: { color: C_BLUE, borderWidth: 0 } }],
      textStyle: { fontSize: 30, fontFamily: FONT, color: '#111', padding: [0, 0, 0, 4] },
      padding: [5, 22, 5, 7], borderColor: '#000', borderWidth: 2.5, backgroundColor: '#fff', z: 20 }
  ],
  series: [
    { name: 'SM', type: 'scatter', xAxisIndex: 0, yAxisIndex: 0, symbolSize: DOT, itemStyle: { color: C_BLUE },
      data: daily(smLo, 0).concat(daily(smMid, 0.33), daily(smHi, 0.67), smPeaks), silent: true },
    { name: 'PM', type: 'scatter', xAxisIndex: 0, yAxisIndex: 0, symbolSize: DOT, itemStyle: { color: C_ORANGE },
      data: daily(pmLo, 0).concat(daily(pmMid, 0.33), daily(pmHi, 0.67), pmScatter), silent: true },
    { name: '26s', type: 'scatter', xAxisIndex: 0, yAxisIndex: 0, symbolSize: DOT, itemStyle: { color: C_GREEN },
      data: daily(g26Lo, 0).concat(daily(g26Mid, 0.33), daily(g26Hi, 0.67), g26Scatter), silent: true },
    { name: '28s', type: 'scatter', xAxisIndex: 0, yAxisIndex: 0, symbolSize: DOT, itemStyle: { color: C_PURPLE },
      data: daily(p28Lo, 0).concat(daily(p28Mid, 0.33), daily(p28Hi, 0.67), p28Scatter), silent: true },
    corrSeries('28s/PM', 2, pm28, C_ORANGE, true, false),
    corrSeries('26s/PM', 2, pm26, C_BLUE, false, true),
    corrSeries('28s/SM', 4, sm28, C_ORANGE, true, false),
    corrSeries('26s/SM', 4, sm26, C_BLUE, false, true)
  ],
  graphic: graphics
};
chart.setOption(option);
</script></body></html>
